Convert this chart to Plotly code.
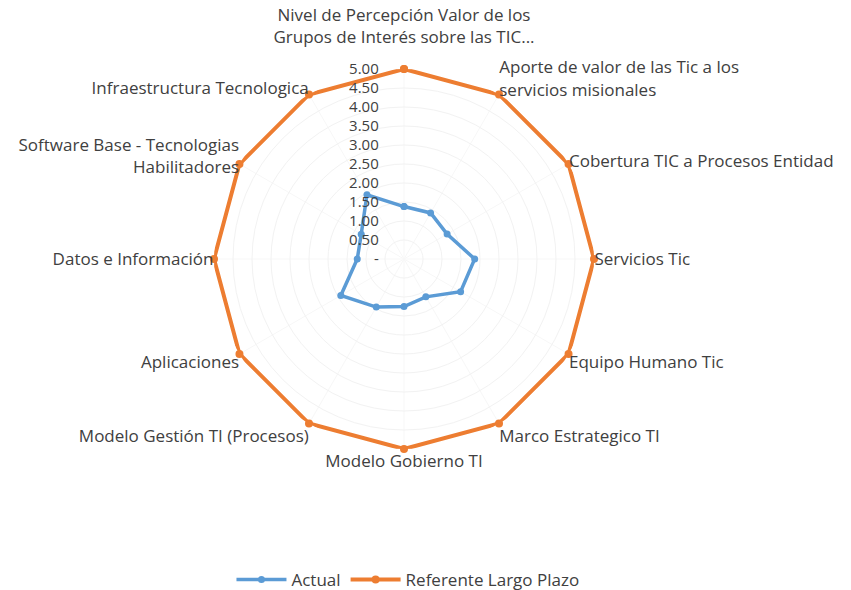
import plotly.graph_objects as go

categories = [
    "Nivel de Percepción Valor de los<br>Grupos de Interés sobre las TIC...<br> ",
    "Aporte de valor de las Tic a los<br>servicios misionales",
    "Cobertura TIC a Procesos Entidad",
    "Servicios Tic",
    "Equipo Humano Tic",
    "Marco Estrategico TI",
    "Modelo Gobierno TI",
    "Modelo Gestión TI (Procesos)",
    "Aplicaciones",
    "Datos e Información",
    "Software Base - Tecnologias<br>Habilitadores",
    "Infraestructura Tecnologica",
]
actual = [1.38, 1.40, 1.31, 1.86, 1.72, 1.15, 1.25, 1.46, 1.92, 1.23, 1.30, 1.95]
referente = [5.0] * 12
tick_vals = [0, 0.5, 1.0, 1.5, 2.0, 2.5, 3.0, 3.5, 4.0, 4.5, 5.0]
tick_text = ["-", "0.50", "1.00", "1.50", "2.00", "2.50", "3.00", "3.50", "4.00", "4.50", "5.00"]

theta = categories + categories[:1]
fig = go.Figure()
fig.add_trace(go.Scatterpolar(
    r=actual + actual[:1], theta=theta, name="Actual", mode="lines+markers",
    line=dict(color="#5B9BD5", width=3.5), marker=dict(size=7, color="#5B9BD5"),
))
fig.add_trace(go.Scatterpolar(
    r=referente + referente[:1], theta=theta, name="Referente Largo Plazo", mode="lines+markers",
    line=dict(color="#ED7D31", width=4), marker=dict(size=8, color="#ED7D31"),
))

# small gap between the radial labels and the axis
radial_labels = [t + "\u2003\u2002" for t in tick_text]

cx, cy, R = 396.0, 251.0, 190.0
fig.update_layout(
    width=851, height=590,
    margin=dict(l=0, r=0, t=0, b=0),
    paper_bgcolor="white", plot_bgcolor="white",
    font=dict(family="'Open Sans', sans-serif", size=17, color="#404040"),
    polar=dict(
        domain=dict(x=[(cx - R) / 851, (cx + R) / 851], y=[1 - (cy + R) / 590, 1 - (cy - R) / 590]),
        bgcolor="white",
        angularaxis=dict(direction="clockwise", rotation=90, showline=False,
                         gridcolor="#F7F7F7", ticks="", tickfont=dict(size=17, color="#404040")),
        radialaxis=dict(range=[0, 5], tickvals=tick_vals, ticktext=radial_labels, angle=90,
                        side="counterclockwise",
                        tickangle=90, showline=False, ticks="", gridcolor="#F2F2F2",
                        tickfont=dict(size=15, color="#404040")),
        gridshape="circular",
    ),
    legend=dict(orientation="h", x=0.470, xanchor="center", y=0.0, yanchor="bottom",
                font=dict(size=17, color="#404040"), itemwidth=50),
    showlegend=True,
)
fig.write_html("out.html")
